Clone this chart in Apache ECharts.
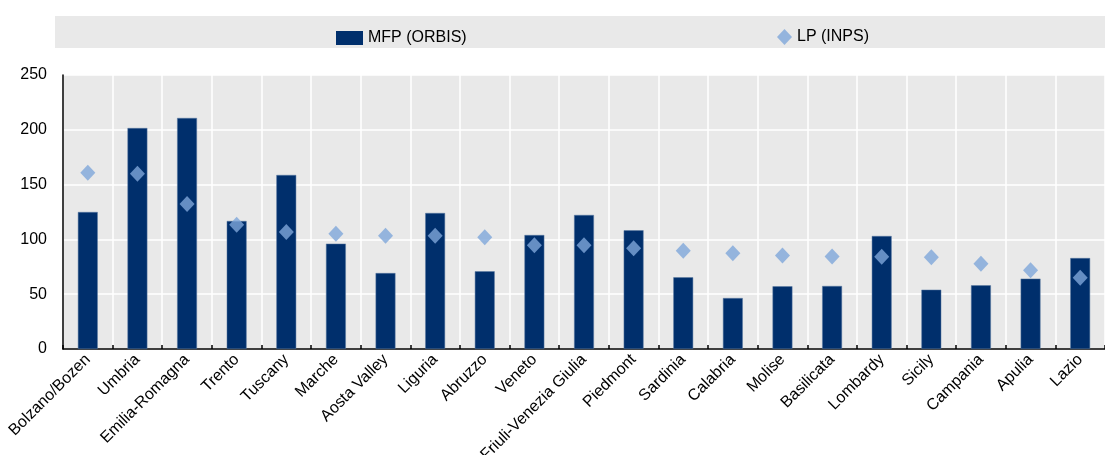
<!DOCTYPE html>
<html>
<head>
<meta charset="utf-8">
<script src="https://cdn.jsdelivr.net/npm/echarts@6/dist/echarts.min.js"></script>
<style>
html,body{margin:0;padding:0;background:#fff;}
#chart{width:1105px;height:455px;}
</style>
</head>
<body>
<div id="chart"></div>
<script>
const categories = ['Bolzano/Bozen','Umbria','Emilia-Romagna','Trento','Tuscany','Marche','Aosta Valley','Liguria','Abruzzo','Veneto','Friuli-Venezia Giulia','Piedmont','Sardinia','Calabria','Molise','Basilicata','Lombardy','Sicily','Campania','Apulia','Lazio'];
const mfpOrbis = [125, 201.6, 210.8, 116.8, 158.8, 96.1, 69.3, 124.1, 70.9, 104, 122.3, 108.3, 65.4, 46.5, 57.2, 57.5, 103.1, 54.1, 58.1, 64.2, 83];
const lpInps = [160.9, 160, 132.3, 113.4, 106.8, 105.2, 103.4, 103.4, 101.9, 94.6, 94.6, 91.9, 89.7, 87.3, 85.2, 84.5, 84.2, 83.6, 77.8, 71.8, 65.1];
const seriesNames = ['MFP (ORBIS)', 'LP (INPS)'];

const FONT = "'Liberation Sans',Arial,sans-serif";
const chart = echarts.init(document.getElementById('chart'), null, {renderer:'canvas'});
chart.setOption({
  animation: false,
  textStyle: {fontFamily: FONT},
  graphic: [{
    type: 'rect', left: 55, top: 16, z: -10,
    shape: {width: 1050, height: 32},
    style: {fill: '#e9e9e9'}
  }],
  legend: [
    {data: [{name: seriesNames[0], icon: 'rect', itemStyle: {borderWidth: 0}}], left: 331, top: 25, itemWidth: 27, itemHeight: 14, itemGap: 9,
     textStyle: {fontSize: 16, color: '#000', fontFamily: FONT}},
    {data: [{name: seriesNames[1], icon: 'diamond'}], left: 772, top: 24, itemWidth: 15, itemHeight: 16, itemGap: 9,
     textStyle: {fontSize: 16, color: '#000', fontFamily: FONT}}
  ],
  grid: {left: 63, right: 0, top: 75, bottom: 106, show: true, backgroundColor: '#e9e9e9', borderWidth: 0, outerBoundsMode: 'none', containLabel: false},
  xAxis: {
    type: 'category', data: categories,
    axisLine: {lineStyle: {color: '#000', width: 1.5}},
    axisTick: {show: true, inside: true, length: 4, lineStyle: {color: '#000', width: 1.5}},
    splitLine: {show: true, lineStyle: {color: '#fff', width: 1.5}},
    axisLabel: {rotate: 45, fontSize: 16, color: '#000', margin: 8, fontFamily: FONT, interval: 0}
  },
  yAxis: {
    type: 'value', min: 0, max: 250, interval: 50,
    axisLine: {show: true, lineStyle: {color: '#000', width: 1.5}},
    axisTick: {show: false},
    splitLine: {show: true, lineStyle: {color: '#fff', width: 1.5}},
    axisLabel: {fontSize: 16, color: '#000', margin: 16, fontFamily: FONT}
  },
  series: [
    {name: seriesNames[0], type: 'bar', data: mfpOrbis, barWidth: '40%',
     itemStyle: {color: '#002f6c', borderColor: '#5a7aa3', borderWidth: 0.5}},
    {name: seriesNames[1], type: 'scatter', data: lpInps, symbol: 'diamond', symbolSize: [15, 16],
     itemStyle: {color: '#7ea6d9'}, z: 5}
  ]
});
</script>
</body>
</html>
